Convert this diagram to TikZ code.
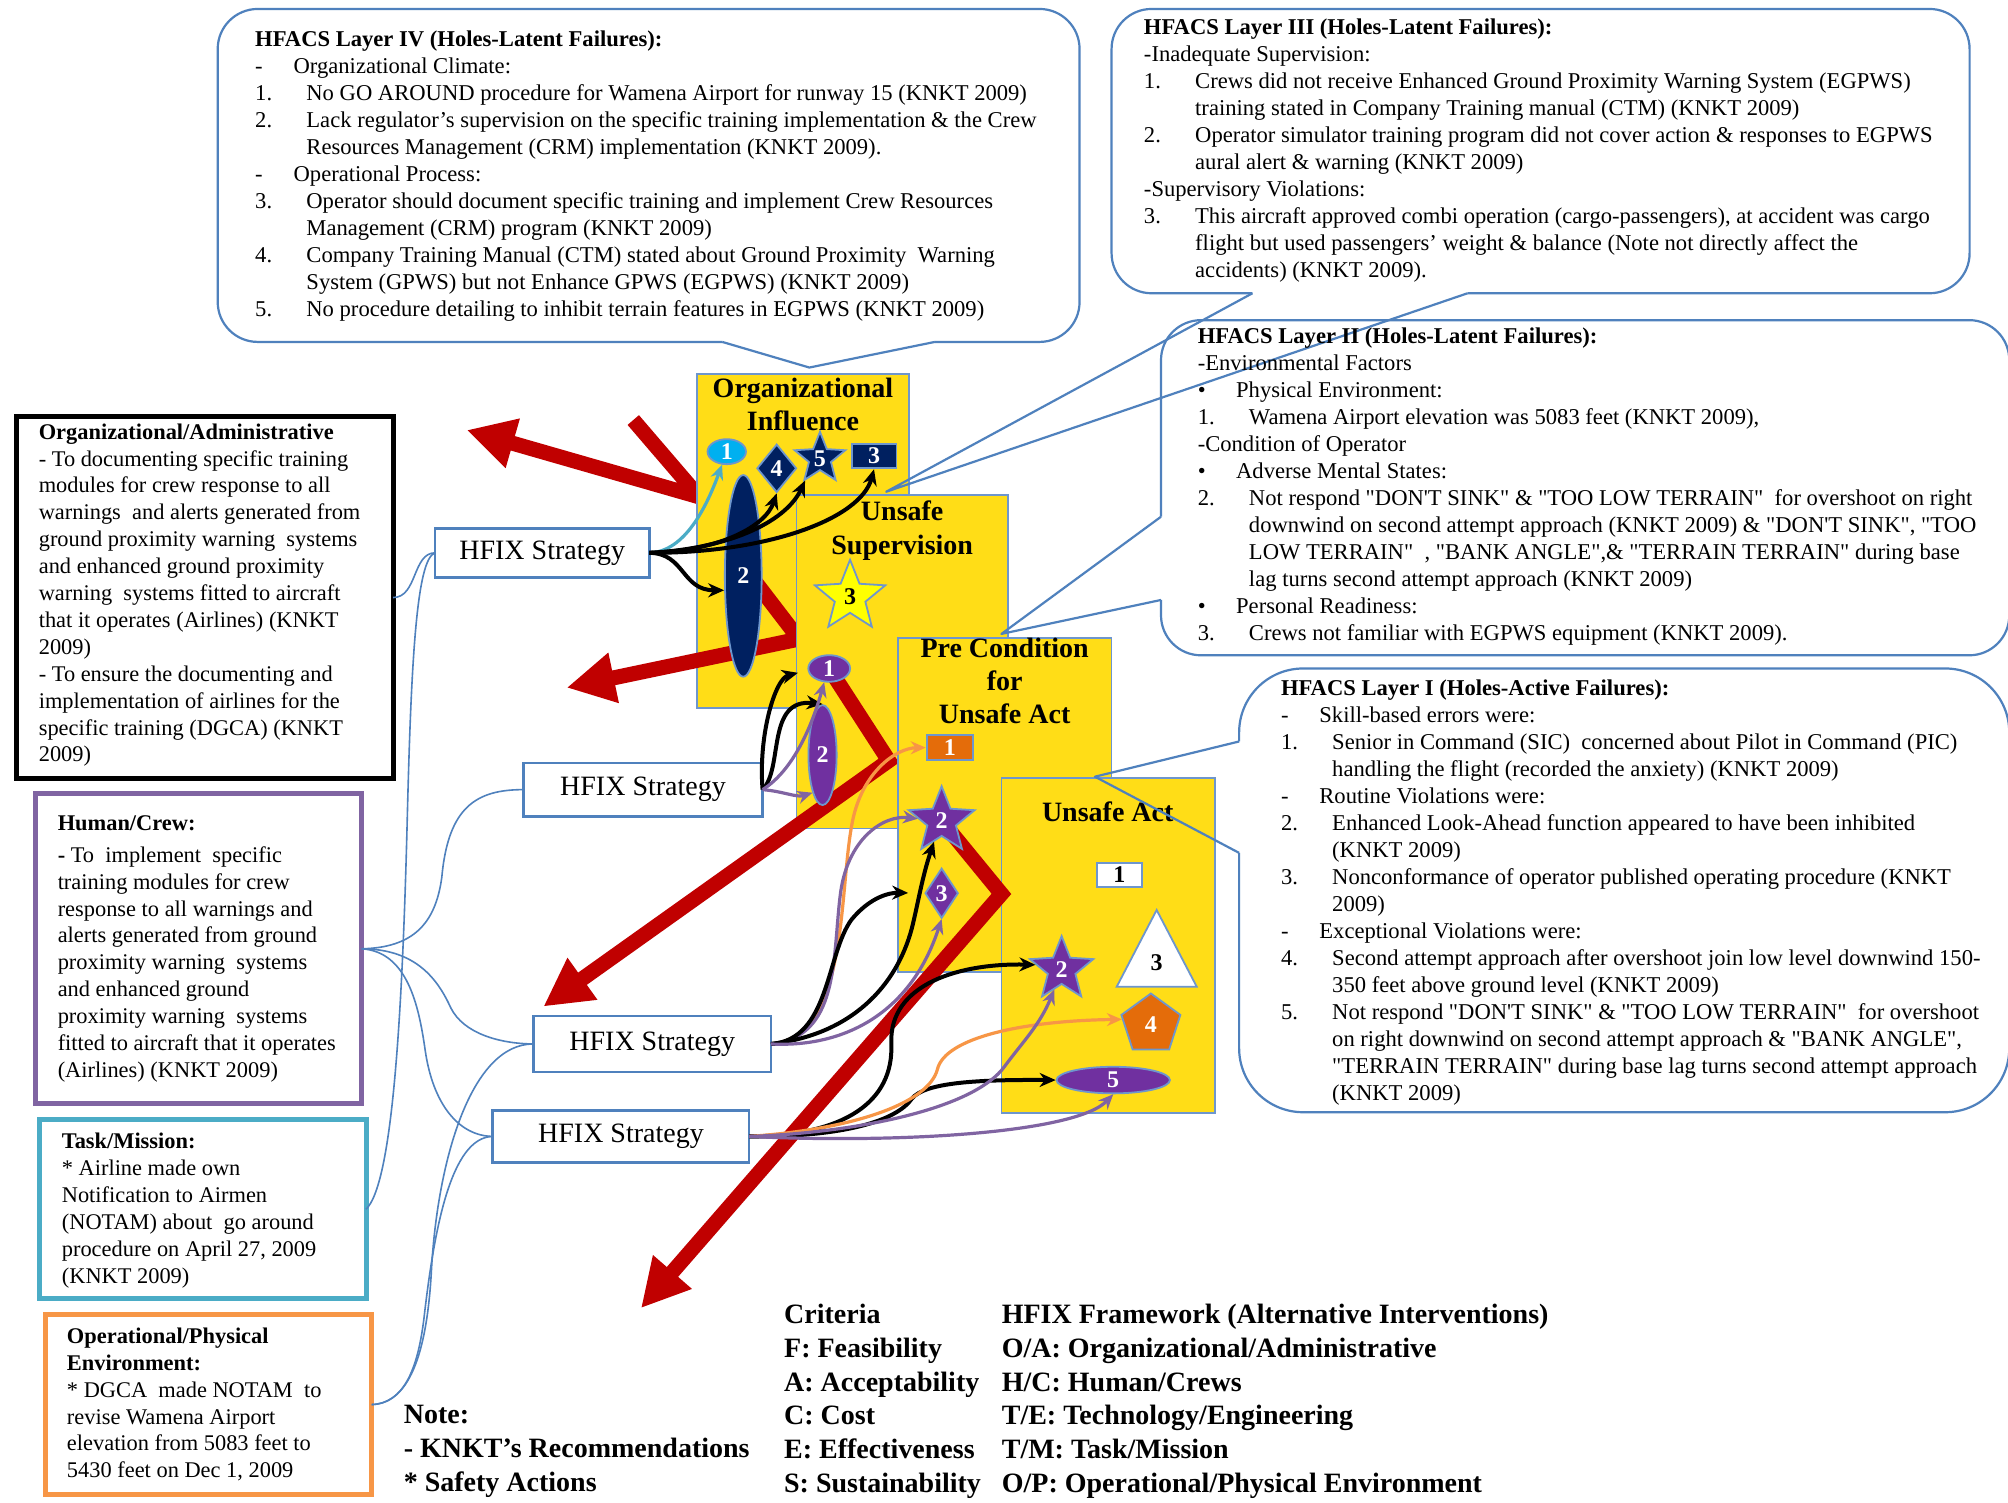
\documentclass[tikz,border=0pt]{standalone}
\usepackage{fontspec}
\setmainfont{Liberation Serif}[Ligatures=TeXOff]
\usetikzlibrary{shapes.geometric,arrows.meta}

\definecolor{calblue}{RGB}{79,129,189}
\definecolor{boxyellow}{RGB}{255,221,23}
\definecolor{edgeblue}{RGB}{110,150,205}
\definecolor{redarr}{RGB}{192,0,0}
\definecolor{navyfill}{RGB}{0,32,96}
\definecolor{purplefill}{RGB}{112,48,160}
\definecolor{purpleline}{RGB}{128,100,162}
\definecolor{orangefill}{RGB}{228,108,10}
\definecolor{orangeline}{RGB}{247,150,70}
\definecolor{tealline}{RGB}{75,172,198}
\definecolor{skyfill}{RGB}{0,176,240}
\definecolor{staryellow}{RGB}{255,255,0}

% hanging labels for the numbered lists
\newcommand{\cnum}[1]{\makebox[25.6pt][l]{#1}}
\newcommand{\cdsh}[1]{\makebox[19.2pt][l]{#1}}
\newcommand{\cind}{\hspace*{25.6pt}}

\begin{document}
\begin{tikzpicture}[x=0.6403pt,y=-0.6403pt,
  bubble/.style={draw=calblue,line width=1.1pt,line join=round},
  ybox/.style={fill=boxyellow,draw=edgeblue,line width=0.9pt},
  ttl/.style={align=center,inner sep=0,font=\fontsize{14}{16.6}\selectfont\bfseries},
  hfix/.style={draw=calblue,line width=1.2pt,fill=white,inner sep=0,outer sep=0,font=\fontsize{14}{16}\selectfont},
  lbox/.style={line width=2.5pt,fill=white,inner sep=0,outer sep=0},
  txt/.style={align=left,inner sep=0,font=\fontsize{11.3}{13.5}\selectfont},
  ltxt/.style={align=left,inner sep=0,font=\fontsize{11.2}{13.45}\selectfont},
  lgd/.style={align=left,inner sep=0,anchor=north west,font=\fontsize{14}{16.9}\selectfont\bfseries},
  redarrow/.style={draw=redarr,line width=7.5pt,line join=miter,-{Triangle[length=24pt,width=24pt]}},
  hfixlink/.style={draw=calblue,line width=0.8pt},
  arrblack/.style={draw=black,line width=2pt,-{Stealth[length=8pt,width=7pt]}},
  arrpurple/.style={draw=purpleline,line width=1.6pt,-{Stealth[length=7.5pt,width=6.5pt]}},
  arrorange/.style={draw=orangeline,line width=1.6pt,-{Stealth[length=7.5pt,width=6.5pt]}},
  arrteal/.style={draw=tealline,line width=1.6pt,-{Stealth[length=7.5pt,width=6.5pt]}},
  shp/.style={draw=edgeblue,line width=0.9pt,inner sep=0,text=white,font=\fontsize{12}{12}\selectfont\bfseries},
  navyshape/.style={shp,fill=navyfill},
  purpleshape/.style={shp,fill=purplefill},
  orangeshape/.style={shp,fill=orangefill},
  whiteshape/.style={shp,fill=white,text=black},
  fivestar/.style={star,star points=5,star point ratio=2.3}
]
\useasboundingbox (0,0) rectangle (1568,1173);
\fill[white] (0,0) rectangle (1568,1173);

% ---------- layers and the red failure trajectory ----------
\draw[redarrow] (494.5,328) -- (546,388) -- (364.4,335.8);
\path[ybox] (544,292) rectangle (710,553);
\node[ttl,anchor=north] (tOI) at (627,295) {Organizational\\Influence};

\draw[redarrow] (588,452) -- (624,499) -- (442.5,537);
\path[ybox] (622,386.5) rectangle (787,647);
\node[ttl,anchor=north] (tUS) at (704.5,391) {Unsafe\\Supervision};

\draw[redarrow] (647.5,522) -- (694,594) -- (424.3,786);
\path[ybox] (701,498) rectangle (868,759);
\node[ttl,anchor=north] (tPC) at (784.5,498) {Pre Condition\\for\\Unsafe Act};

\path[ybox] (782,607.7) rectangle (949,869);
\node[ttl,anchor=north] (tUA) at (865,626) {Unsafe Act};

\draw[redarrow] (735.3,641) -- (782,698) -- (500.5,1021.5);

% ---------- holes in each layer ----------
\node[navyshape,ellipse,minimum width=18.4pt,minimum height=100.8pt] (oe2) at (580.4,449.7) {2};
\node[shp,fill=skyfill,ellipse,minimum width=19.2pt,minimum height=12.5pt] (oe1) at (567.5,352.7) {1};
\node[navyshape,diamond,minimum width=19.8pt,minimum height=24.1pt] (od4) at (606.5,365.7) {4};
\node[navyshape,fivestar,minimum size=26.6pt] (os5) at (640.3,358) {5};
\node[navyshape,rectangle,minimum width=22.4pt,minimum height=12.2pt] (or3) at (682.5,356.2) {3};

\node[shp,fill=staryellow,text=black,fivestar,minimum size=37pt] (us3) at (663.8,466) {3};
\node[purpleshape,ellipse,minimum width=20.9pt,minimum height=13.3pt] (ue1) at (647.5,522) {1};
\node[purpleshape,ellipse,minimum width=14.1pt,minimum height=50pt] (ue2) at (642.3,589.6) {2};

\node[orangeshape,rectangle,minimum width=23.3pt,minimum height=12.5pt] (pr1) at (741.8,583.8) {1};
\node[purpleshape,fivestar,minimum size=34.6pt] (ps2) at (735.3,641) {2};
\node[purpleshape,diamond,minimum width=16.6pt,minimum height=25pt] (pd3) at (735.3,697.5) {3};

\node[whiteshape,rectangle,minimum width=22.5pt,minimum height=12pt] (ar1) at (874,683) {1};
\draw[draw=edgeblue,line width=0.9pt,fill=white] (903.2,710.6) -- (934.5,770.5) -- (872,770.5) -- cycle;
\node[inner sep=0,font=\fontsize{12}{12}\selectfont\bfseries] (at3) at (903.2,752) {3};
\node[purpleshape,fivestar,minimum size=33.3pt] (as2) at (829,757) {2};
\node[orangeshape,regular polygon,regular polygon sides=5,minimum size=31pt] (ap4) at (898.7,800) {4};
\node[purpleshape,ellipse,minimum width=56.7pt,minimum height=13.3pt] (ae5) at (869.3,843.4) {5};

% ---------- HFACS callouts ----------
\draw[bubble,rounded corners=20pt] (730,267) -- (843,267) -- (843,7) -- (170,7) -- (170,267) -- (564,267);
\draw[bubble] (564,267) -- (632,287) -- (730,267);
\node[txt,anchor=north west] (c4) at (199,23.5) {\textbf{HFACS Layer IV (Holes-Latent Failures):}\\
\cdsh{-}Organizational Climate:\\
\cnum{1.}No GO AROUND procedure for Wamena Airport for runway 15 (KNKT 2009)\\
\cnum{2.}Lack regulator’s supervision on the specific training implementation \& the Crew\\
\cind Resources Management (CRM) implementation (KNKT 2009).\\
\cdsh{-}Operational Process:\\
\cnum{3.}Operator should document specific training and implement Crew Resources\\
\cind Management (CRM) program (KNKT 2009)\\
\cnum{4.}Company Training Manual (CTM) stated about Ground Proximity\ \ Warning\\
\cind System (GPWS) but not Enhance GPWS (EGPWS) (KNKT 2009)\\
\cnum{5.}No procedure detailing to inhibit terrain features in EGPWS (KNKT 2009)};

\draw[bubble,rounded corners=20pt] (1146,229) -- (1538,229) -- (1538,7) -- (868,7) -- (868,229) -- (978,229);
\draw[bubble] (978,229) -- (692,384) -- (1146,229);
\node[txt,anchor=north west] (c3) at (893,14.5) {\textbf{HFACS Layer III (Holes-Latent Failures):}\\
-Inadequate Supervision:\\
\cnum{1.}Crews did not receive Enhanced Ground Proximity Warning System (EGPWS)\\
\cind training stated in Company Training\ manual (CTM) (KNKT 2009)\\
\cnum{2.}Operator simulator training program did not cover action \& responses to EGPWS\\
\cind aural alert \& warning\ (KNKT 2009)\\
-Supervisory Violations:\\
\cnum{3.}This aircraft approved combi operation (cargo-passengers), at accident was cargo\\
\cind flight but\ used passengers’ weight \& balance (Note not directly affect the\\
\cind accidents) (KNKT 2009).};

\draw[bubble,rounded corners=20pt] (906.6,403.5) -- (906.6,250) -- (1569,250) -- (1569,511.7) -- (906.6,511.7) -- (906.6,468.5);
\draw[bubble] (906.6,403.5) -- (782,495) -- (906.6,468.5);
\node[txt,anchor=north west] (c2) at (935,255.5) {\textbf{HFACS Layer II (Holes-Latent Failures):}\\
-Environmental Factors\\
\cdsh{•}Physical Environment:\\
\cnum{1.}Wamena Airport elevation was\ 5083 feet (KNKT 2009),\\
-Condition of Operator\\
\cdsh{•}Adverse Mental States:\\
\cnum{2.}Not respond "DON'T\ SINK"\ \& "TOO\ LOW TERRAIN"\ \ for overshoot on right\\
\cind downwind\ on second attempt approach (KNKT 2009) \& "DON'T\ SINK",\ "TOO\\
\cind LOW TERRAIN"\ \ , "BANK\ ANGLE",\& "TERRAIN\ TERRAIN"\ during base\\
\cind lag turns second attempt approach (KNKT 2009)\\
\cdsh{•}Personal Readiness:\\
\cnum{3.}Crews not familiar with EGPWS equipment (KNKT 2009).};

\draw[bubble,rounded corners=32pt] (967.6,579) -- (967.6,522) -- (1569,522) -- (1569,868.5) -- (967.6,868.5) -- (967.6,666);
\draw[bubble] (967.6,579) -- (855,606.5) -- (967.6,666);
\node[txt,anchor=north west] (c1) at (1000,530.5) {\textbf{HFACS Layer I (Holes-Active Failures):}\\
\cdsh{-}Skill-based errors were:\\
\cnum{1.}Senior in Command (SIC)\ \ concerned about Pilot in Command (PIC)\\
\cind handling\ the flight (recorded the anxiety) (KNKT 2009)\\
\cdsh{-}Routine Violations were:\\
\cnum{2.}Enhanced Look-Ahead function appeared to have\ been inhibited\\
\cind (KNKT 2009)\\
\cnum{3.}Nonconformance of operator published operating procedure (KNKT\\
\cind 2009)\\
\cdsh{-}Exceptional Violations were:\\
\cnum{4.}Second attempt approach after overshoot join low level downwind\ 150-\\
\cind 350 feet above ground level (KNKT 2009)\\
\cnum{5.}Not respond "DON'T\ SINK"\ \& "TOO\ LOW TERRAIN"\ \ for overshoot\\
\cind on right downwind\ on second attempt approach \& "BANK\ ANGLE",\\
\cind "TERRAIN\ TERRAIN"\ during base lag turns second attempt approach\\
\cind (KNKT 2009)};

% ---------- HFIX interventions ----------
\node[lbox,draw=black,minimum width=188.2pt,minimum height=180.8pt] (bA) at (160,466.6) {};
\node[ltxt,anchor=north west] (tA) at (30,330.5) {\textbf{Organizational/Administrative}\\
- To documenting specific training\\
modules for crew response to all\\
warnings\ \ and alerts generated from\\
ground proximity warning\ \ systems\\
and\ enhanced ground proximity\\
warning\ \ systems fitted to aircraft\\
that it operates (Airlines) (KNKT\\
2009)\\
- To ensure the documenting and\\
implementation of airlines for the\\
specific training (DGCA) (KNKT\\
2009)};

\node[lbox,draw=purpleline,minimum width=163.3pt,minimum height=155pt] (bB) at (154.9,740.9) {};
\node[ltxt,anchor=north west] (tB) at (44.8,636.5) {\textbf{Human/Crew:}\\[2.5pt]
\textbf{-} To\ \ implement\ \ specific\\
training modules for crew\\
response to all warnings and\\
alerts generated from ground\\
proximity warning\ \ systems\\
and\ enhanced ground\\
proximity warning\ \ systems\\
fitted to aircraft that it operates\\
(Airlines) (KNKT 2009)};

\node[lbox,draw=tealline,minimum width=163.3pt,minimum height=89.5pt] (bC) at (158.3,944.3) {};
\node[ltxt,anchor=north west] (tC) at (48,884.5) {\textbf{Task/Mission:}\\
* Airline made own\\
Notification to Airmen\\
(NOTAM) about\ \ go around\\
procedure on April 27, 2009\\
(KNKT 2009)};

\node[lbox,draw=orangeline,minimum width=163.3pt,minimum height=89.6pt] (bD) at (162.7,1096.8) {};
\node[ltxt,anchor=north west] (tD) at (52,1036.5) {\textbf{Operational/Physical}\\
\textbf{Environment:}\\
* DGCA\ \ made NOTAM\ \ to\\
revise Wamena Airport\\
elevation from 5083 feet to\\
5430 feet on Dec 1, 2009};

\node[hfix,minimum width=107.1pt,minimum height=24.5pt] (h1) at (423.4,431.7) {HFIX Strategy};
\node[hfix,minimum width=119.6pt,minimum height=26.8pt] (h2) at (502.1,616.6) {HFIX Strategy};
\node[hfix,minimum width=118.8pt,minimum height=27.8pt] (h3) at (509.3,815.2) {HFIX Strategy};
\node[hfix,minimum width=128.3pt,minimum height=25.9pt] (h4) at (484.9,887.4) {HFIX Strategy};

\draw[hfixlink] (bA.east) .. controls (326,466.6) and (322,431.7) .. (h1.west);
\draw[hfixlink] (h1.west) .. controls (325,436) and (321,520) .. (318,640) .. controls (314,800) and (306,925) .. (bC.east);
\draw[hfixlink] (bB.east) .. controls (322,740) and (340,722) .. (345,685) .. controls (350,630) and (372,616.6) .. (h2.west);
\draw[hfixlink] (bB.east) .. controls (325,741) and (342,765) .. (352,787) .. controls (362,807) and (390,815) .. (h3.west);
\draw[hfixlink] (bB.east) .. controls (318,743) and (327,785) .. (332,820) .. controls (338,862) and (358,887) .. (h4.west);
\draw[hfixlink] (bD.east) .. controls (322,1096) and (334,1050) .. (337,990) .. controls (342,905) and (368,815) .. (h3.west);
\draw[hfixlink] (bD.east) .. controls (315,1096) and (326,1070) .. (331,1030) .. controls (339,960) and (352,888) .. (h4.west);

% ---------- interventions aimed at the holes ----------
\draw[arrteal] (h1.east) .. controls (535,431) and (552,395) .. (oe1.250);
\draw[arrblack] (h1.east) .. controls (535,432) and (532,461) .. (oe2.217);
\draw[arrblack] (h1.east) .. controls (565,430) and (598,410) .. (od4.south);
\draw[arrblack] (h1.east) .. controls (575,428) and (615,405) .. (os5.236);
\draw[arrblack] (h1.east) .. controls (600,432) and (672,405) .. (or3.south);

\draw[arrblack,shorten >=5pt] (h2.east) .. controls (592,575) and (605,530) .. (ue1.185);
\draw[arrblack] (h2.east) .. controls (612,600) and (598,545) .. (ue2.north);
\draw[arrpurple] (h2.east) .. controls (622,600) and (636,560) .. (ue1.250);
\draw[arrpurple] (h2.east) .. controls (612,618) and (622,623) .. (ue2.255);

\draw[arrorange] (h3.east) .. controls (662,810) and (655,700) .. (665,645) .. controls (672,603) and (700,584) .. (pr1.west);
\draw[arrpurple] (h3.east) .. controls (655,810) and (650,750) .. (656,700) .. controls (661,655) and (690,636) .. (ps2.175);
\draw[arrblack,shorten >=8pt] (h3.east) .. controls (648,812) and (645,745) .. (665,718) .. controls (680,700) and (695,697) .. (pd3.west);
\draw[arrblack] (h3.east) .. controls (665,808) and (700,770) .. (712,725) .. controls (717,705) and (720,685) .. (ps2.250);
\draw[arrpurple] (h3.east) .. controls (655,818) and (710,795) .. (pd3.south);

\draw[arrblack] (h4.east) .. controls (660,887) and (698,860) .. (696,815) .. controls (694,768) and (750,752) .. (as2.170);
\draw[arrblack] (h4.east) .. controls (660,888) and (700,875) .. (712,858) .. controls (722,845) and (765,843) .. (ae5.west);
\draw[arrorange] (h4.east) .. controls (665,882) and (725,862) .. (732,835) .. controls (738,810) and (800,797) .. (ap4.170);
\draw[arrpurple] (h4.east) .. controls (660,885) and (760,868) .. (785,832) .. controls (800,812) and (812,800) .. (as2.250);
\draw[arrpurple] (h4.east) .. controls (700,893) and (840,885) .. (ae5.south);

% ---------- key ----------
\node[lgd] (note) at (315,1097) {Note:\\- KNKT’s Recommendations\\* Safety Actions};
\node[lgd] (crit) at (612,1018) {Criteria\\F: Feasibility\\A: Acceptability\\C: Cost\\E: Effectiveness\\S: Sustainability};
\node[lgd] (fw) at (782,1018) {HFIX Framework (Alternative Interventions)\\O/A: Organizational/Administrative\\H/C: Human/Crews\\T/E: Technology/Engineering\\T/M: Task/Mission\\O/P: Operational/Physical Environment};
\end{tikzpicture}
\end{document}
